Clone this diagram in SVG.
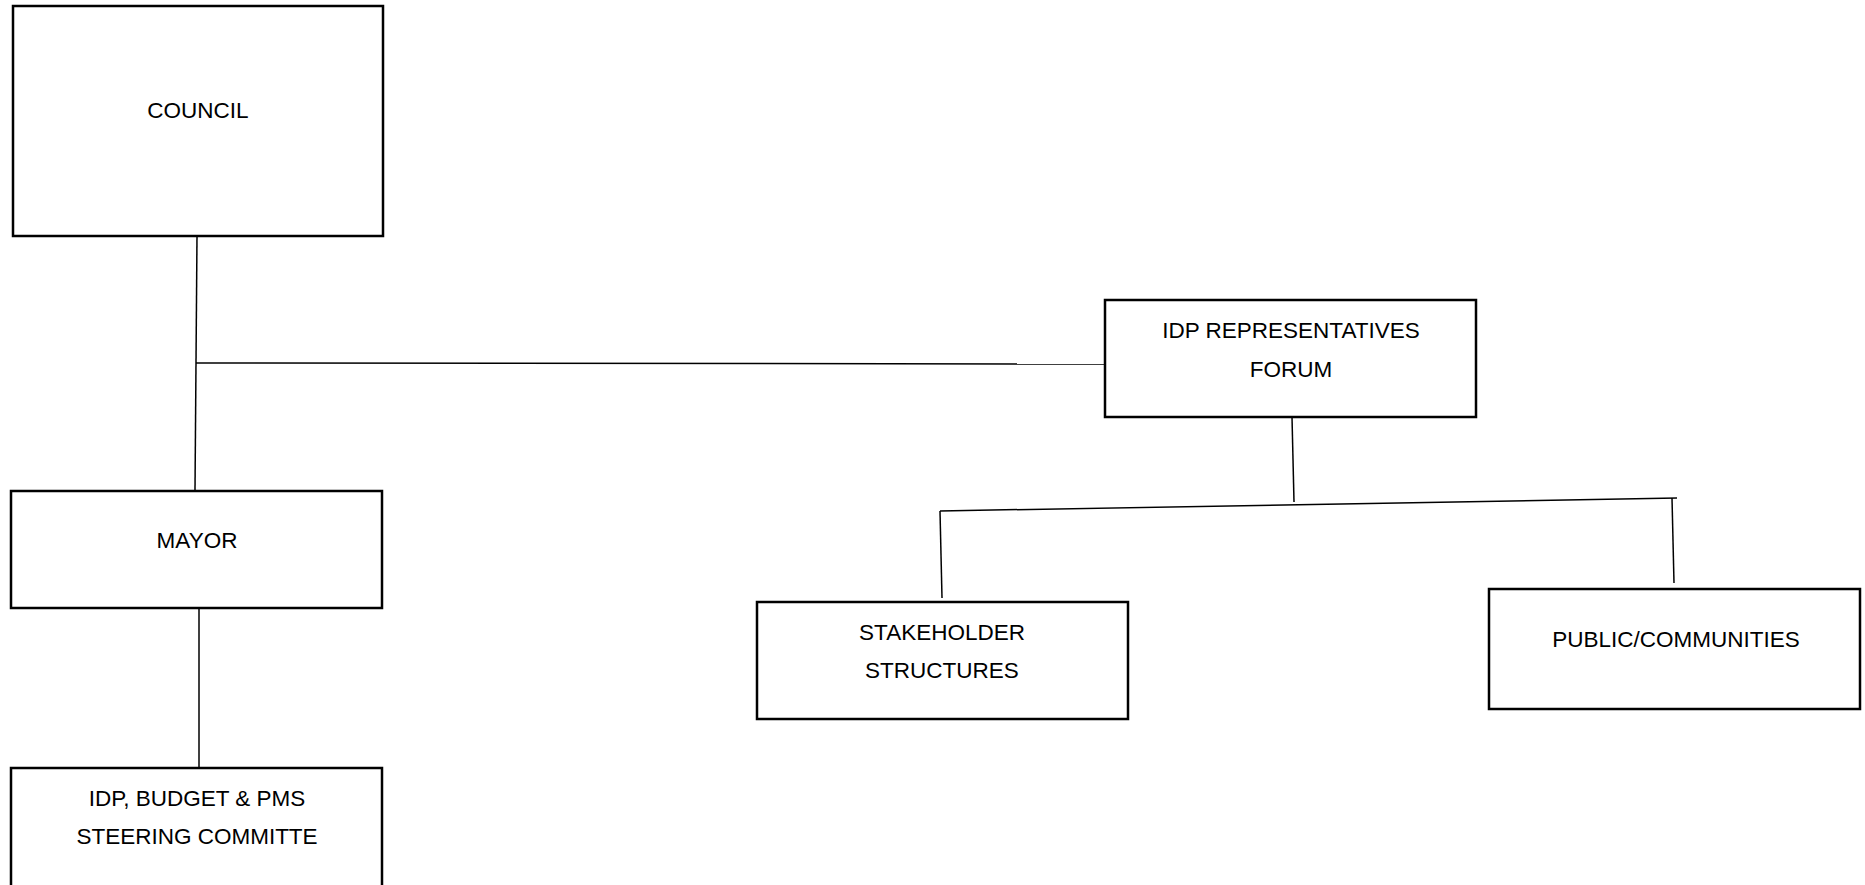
<svg xmlns="http://www.w3.org/2000/svg" width="1865" height="885" viewBox="0 0 1865 885">
<style>
.box{fill:#fff;stroke:#000;stroke-width:2.5}
.lbl{font-family:"Liberation Sans",Arial,sans-serif;font-size:22.5px;fill:#000;text-anchor:middle}
.con{stroke:#000;stroke-width:1.5;fill:none}
</style>
<rect width="1865" height="885" fill="#fff"/>
<g id="connectors">
<line class="con" x1="197" y1="236" x2="195" y2="490"/>
<line class="con" x1="196" y1="363" x2="1105" y2="364"/>
<line class="con" x1="199" y1="604" x2="199" y2="768"/>
<line class="con" x1="1292" y1="417" x2="1294" y2="502"/>
<line class="con" x1="940" y1="511" x2="1677" y2="498"/>
<line class="con" x1="940" y1="511" x2="942" y2="598"/>
<line class="con" x1="1672" y1="498" x2="1674" y2="583"/>
</g>
<g id="council">
<rect class="box" x="13" y="6" width="370" height="230"/>
<text class="lbl" x="198" y="118">COUNCIL</text>
</g>
<g id="mayor">
<rect class="box" x="11" y="491" width="371" height="117"/>
<text class="lbl" x="197" y="548">MAYOR</text>
</g>
<g id="steering">
<rect class="box" x="11" y="768" width="371" height="130"/>
<text class="lbl" x="197" y="806">IDP, BUDGET &amp; PMS</text>
<text class="lbl" x="197" y="844">STEERING COMMITTE</text>
</g>
<g id="forum">
<rect class="box" x="1105" y="300" width="371" height="117"/>
<text class="lbl" x="1291" y="338">IDP REPRESENTATIVES</text>
<text class="lbl" x="1291" y="377">FORUM</text>
</g>
<g id="stakeholder">
<rect class="box" x="757" y="602" width="371" height="117"/>
<text class="lbl" x="942" y="640">STAKEHOLDER</text>
<text class="lbl" x="942" y="678">STRUCTURES</text>
</g>
<g id="public">
<rect class="box" x="1489" y="589" width="371" height="120"/>
<text class="lbl" x="1676" y="647">PUBLIC/COMMUNITIES</text>
</g>
</svg>
